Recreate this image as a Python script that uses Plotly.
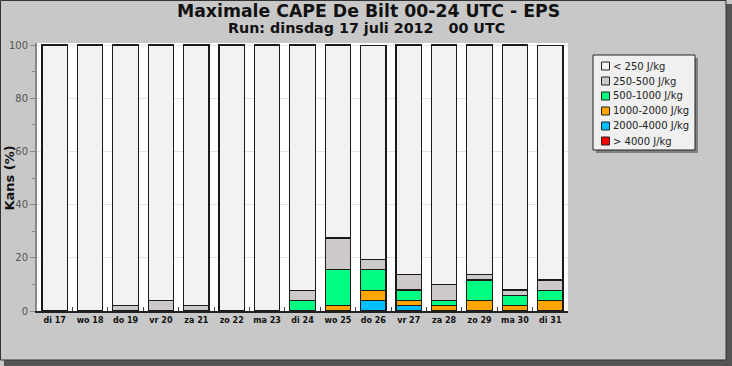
import plotly.graph_objects as go

days = ["di 17", "wo 18", "do 19", "vr 20", "za 21", "zo 22", "ma 23", "di 24",
        "wo 25", "do 26", "vr 27", "za 28", "zo 29", "ma 30", "di 31"]

gt4000 = [0, 0, 0, 0, 0, 0, 0, 0, 0, 0, 0, 0, 0, 0, 0]
c2000_4000 = [0, 0, 0, 0, 0, 0, 0, 0, 0, 3.9, 2.0, 0, 0, 0, 0]
c1000_2000 = [0, 0, 0, 0, 0, 0, 0, 0, 2.0, 3.9, 2.0, 2.0, 3.9, 2.0, 3.9]
c500_1000 = [0, 0, 0, 0, 0, 0, 0, 3.9, 13.7, 7.8, 3.9, 2.0, 7.8, 3.9, 3.9]
c250_500 = [0, 0, 2.0, 3.9, 2.0, 0, 0, 3.9, 11.8, 3.9, 5.9, 5.9, 2.0, 2.0, 3.9]
lt250 = [100, 100, 98.0, 96.1, 98.0, 100, 100, 92.2, 72.5, 80.4, 86.3, 90.2, 86.3, 92.2, 88.2]

names = ["> 4000 J/kg", "2000-4000 J/kg", "1000-2000 J/kg", "500-1000 J/kg", "250-500 J/kg", "< 250 J/kg"]
values = [gt4000, c2000_4000, c1000_2000, c500_1000, c250_500, lt250]
colors = ["#ff0000", "#00bfff", "#ffa500", "#00ff80", "#cdc9c9", "#f2f2f2"]

W, H = 732, 366
L, R, T, B = 37, 568, 43, 311  # plot area in pixels


def px(x):
    return (x - L) / (R - L)


def py(y):
    return (B - y) / (B - T)


fig = go.Figure()
for name, vals, col in zip(names, values, colors):
    fig.add_trace(go.Bar(
        x=days, y=[v if v > 0 else None for v in vals], name=name,
        marker=dict(color=col, line=dict(color="#1a1a1a", width=1.3)),
        width=0.72,
    ))

shapes = [
    # outer frame shadow and border
    dict(type="rect", xref="paper", yref="paper", x0=px(726), x1=px(733), y0=py(4), y1=py(367),
         fillcolor="#555", line=dict(width=0), layer="above"),
    dict(type="rect", xref="paper", yref="paper", x0=px(4), x1=px(733), y0=py(360), y1=py(367),
         fillcolor="#555", line=dict(width=0), layer="above"),
    dict(type="rect", xref="paper", yref="paper", x0=px(0.5), x1=px(726), y0=py(0.5), y1=py(360),
         fillcolor="rgba(0,0,0,0)", line=dict(width=1, color="#333"), layer="above"),
    # legend shadow + box
    dict(type="rect", xref="paper", yref="paper", x0=px(596), x1=px(698), y0=py(58), y1=py(153),
         fillcolor="#808080", line=dict(width=0), layer="above"),
    dict(type="rect", xref="paper", yref="paper", x0=px(593), x1=px(695), y0=py(55), y1=py(150),
         fillcolor="#f0f0f0", line=dict(width=1, color="#222"), layer="above"),
]
annotations = []
for i, (name, col) in enumerate(zip(reversed(names), reversed(colors))):
    yc = 66 + 15 * i
    shapes.append(dict(type="rect", xref="paper", yref="paper",
                       x0=px(601.5), x1=px(609.5), y0=py(yc - 4), y1=py(yc + 4),
                       fillcolor=col, line=dict(width=1, color="#222"), layer="above"))
    annotations.append(dict(text=name, x=px(611), y=py(yc), xref="paper", yref="paper",
                            showarrow=False, xanchor="left", yanchor="middle",
                            font=dict(family="DejaVu Sans", size=10, color="#222")))

annotations += [
    dict(text="<b>Maximale CAPE De Bilt 00-24 UTC - EPS</b>", x=px(368), y=py(11.5),
         xref="paper", yref="paper", showarrow=False, xanchor="center", yanchor="middle",
         font=dict(family="DejaVu Sans", size=17.3, color="#111")),
    dict(text="<b>Run: dinsdag 17 juli 2012   00 UTC</b>", x=px(366), y=py(28.5),
         xref="paper", yref="paper", showarrow=False, xanchor="center", yanchor="middle",
         font=dict(family="DejaVu Sans", size=14.3, color="#111")),
    dict(text="<b>Kans (%)</b>", x=px(8.5), y=py(178), textangle=-90,
         xref="paper", yref="paper", showarrow=False, xanchor="center", yanchor="middle",
         font=dict(family="DejaVu Sans", size=13, color="#111")),
]

fig.update_layout(
    width=W, height=H,
    barmode="stack",
    paper_bgcolor="#c8c8c8",
    plot_bgcolor="#ffffff",
    margin=dict(l=L, r=W - R, t=T, b=H - B, pad=0, autoexpand=False),
    font=dict(family="DejaVu Sans", size=9, color="#222"),
    showlegend=False,
    xaxis=dict(
        type="category",
        range=[-0.5, 14.5],
        automargin=False,
        showline=True, linecolor="#222", linewidth=2,
        ticks="inside", tickson="boundaries", ticklen=4, tickcolor="#444",
        tickangle=0,
        tickfont=dict(family="DejaVu Sans", size=8, color="#111", weight="bold"),
        showgrid=False,
    ),
    yaxis=dict(
        range=[0, 100.8],
        automargin=False,
        tickvals=[0, 20, 40, 60, 80, 100],
        showline=True, linecolor="#888", linewidth=2,
        ticks="outside", ticklen=5, tickcolor="#888",
        minor=dict(tickvals=[10, 30, 50, 70, 90], ticks="outside", ticklen=3,
                   tickcolor="#888", showgrid=False),
        tickfont=dict(family="DejaVu Sans", size=10, color="#555"),
        showgrid=True, gridcolor="#e2e2e2", gridwidth=1,
        zeroline=False,
    ),
    annotations=annotations,
    shapes=shapes,
)

fig.write_html(
    "out.html",
    config={"displayModeBar": False, "staticPlot": True},
    post_script="document.body.style.margin='0px';document.body.style.overflow='hidden';",
)
